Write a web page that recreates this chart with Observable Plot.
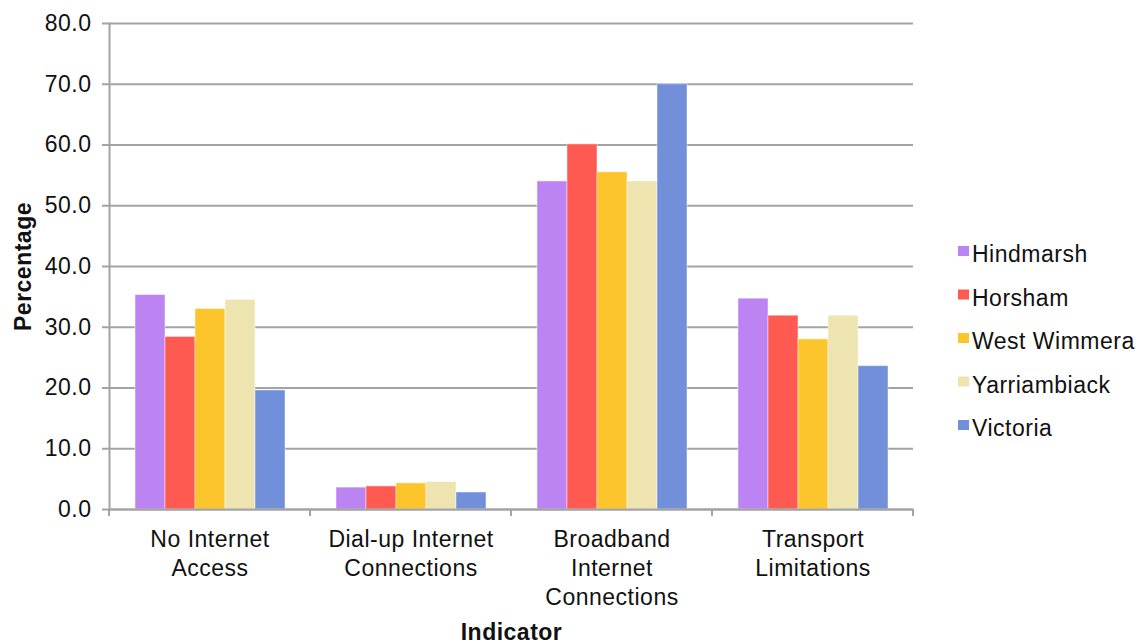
<!DOCTYPE html>
<html>
<head>
<meta charset="utf-8">
<script src="https://cdn.jsdelivr.net/npm/d3@7"></script>
<script src="https://cdn.jsdelivr.net/npm/@observablehq/plot@0.6"></script>
<style>
  html, body { margin: 0; padding: 0; background: #fff; }
  #chart { position: relative; width: 1141px; height: 644px; }
  #chart svg { display: block; letter-spacing: 0.5px; }
</style>
</head>
<body>
<div id="chart"></div>
<script>
// Indicators (x groups) and regions (bars within each group)
const indicators = [
  "No Internet\nAccess",
  "Dial-up Internet\nConnections",
  "Broadband\nInternet\nConnections",
  "Transport\nLimitations"
];
const regions = ["Hindmarsh", "Horsham", "West Wimmera", "Yarriambiack", "Victoria"];

// Percentage per indicator, one array per region
const hindmarsh    = [35.3, 3.6, 54.0, 34.7];
const horsham      = [28.4, 3.8, 60.1, 31.9];
const westWimmera  = [33.0, 4.3, 55.5, 28.0];
const yarriambiack = [34.5, 4.5, 54.0, 31.9];
const victoria     = [19.6, 2.8, 70.0, 23.6];

const regionColors = ["#bb84f2", "#ff5a52", "#fcc52b", "#ede4b0", "#7290da"];
const yTicks = [0, 10, 20, 30, 40, 50, 60, 70, 80];

const series = [hindmarsh, horsham, westWimmera, yarriambiack, victoria];
const data = [];
regions.forEach((region, r) => {
  indicators.forEach((indicator, i) => {
    data.push({indicator, region, value: series[r][i]});
  });
});

const axisGray = "#a3a3a3";
const font = "'Liberation Sans', Arial, Helvetica, sans-serif";

const plot = Plot.plot({
  width: 1141,
  height: 644,
  marginTop: 23,
  marginBottom: 135,
  marginLeft: 108,
  marginRight: 227,
  style: {fontFamily: font, fontSize: "23px", color: "#111", background: "#fff", overflow: "visible"},
  fx: {domain: indicators, padding: 0},
  x: {domain: regions, paddingInner: 0, paddingOuter: 0.78, axis: null},
  y: {domain: [0, 80]},
  color: {domain: regions, range: regionColors},
  marks: [
    Plot.gridY(yTicks, {stroke: axisGray, strokeOpacity: 1, strokeWidth: 2}),
    Plot.barY(data, {
      fx: "indicator", x: "region", y: "value", fill: "region",
      stroke: "#ffffff", strokeOpacity: 0.45, strokeWidth: 1
    }),
    Plot.ruleY([0], {stroke: axisGray, strokeWidth: 2}),
    Plot.frame({anchor: "left", facetAnchor: "left", stroke: axisGray, strokeWidth: 2}),
    Plot.axisY(yTicks, {
      tickFormat: d => d.toFixed(1),
      tickSize: 7, tickPadding: 11,
      stroke: axisGray, strokeWidth: 2, color: "#111",
      fontSize: 23,
      label: "Percentage", labelArrow: "none", labelAnchor: "center", labelOffset: 95
    }),
    Plot.axisFx({
      anchor: "bottom",
      tickSize: 0, tickPadding: 17, lineHeight: 1.26, fontSize: 23,
      label: "Indicator", labelArrow: "none", labelAnchor: "center", labelOffset: 130
    })
  ]
});

const svg = d3.select(plot);

// Axis titles in bold
svg.selectAll("text").each(function() {
  const t = this.textContent.trim();
  if (t === "Indicator" || t === "Percentage") {
    d3.select(this).attr("font-weight", "bold").attr("font-size", 23);
  }
});

// Category boundary ticks under the baseline
const fx = plot.scale("fx");
const y = plot.scale("y");
const y0 = y.apply(0);
const edges = fx.domain.map(d => fx.apply(d));
edges.push(fx.apply(fx.domain[fx.domain.length - 1]) + fx.bandwidth);
svg.append("g")
  .attr("stroke", axisGray)
  .attr("stroke-width", 2)
  .selectAll("line")
  .data(edges)
  .join("line")
  .attr("x1", d => d).attr("x2", d => d)
  .attr("y1", y0).attr("y2", y0 + 7);

// Legend on the right
const color = plot.scale("color");
const legend = svg.append("g")
  .attr("font-family", font)
  .attr("font-size", 23)
  .attr("text-anchor", "start")
  .attr("fill", "#111");
const rows = legend.selectAll("g")
  .data(color.domain)
  .join("g")
  .attr("transform", (d, i) => `translate(958, ${262 + i * 43.5})`);
rows.append("rect")
  .attr("x", 0).attr("y", -16).attr("width", 11).attr("height", 10)
  .attr("fill", d => color.apply(d));
rows.append("text")
  .attr("x", 14).attr("y", 0)
  .text(d => d);

document.getElementById("chart").appendChild(plot);
</script>
</body>
</html>
